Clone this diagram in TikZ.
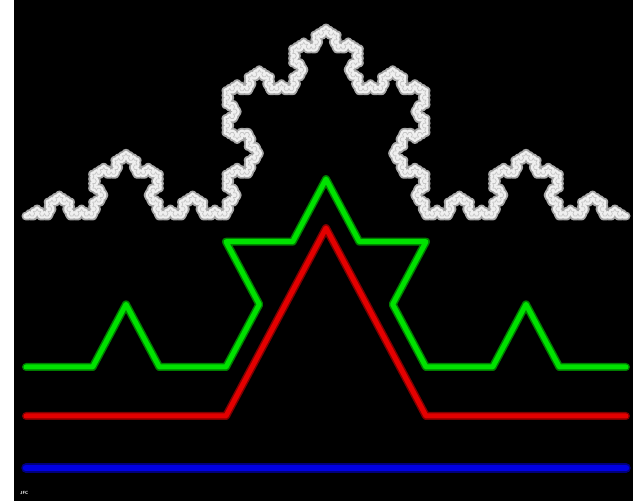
\documentclass[tikz,border=0pt]{standalone}
\usepackage{tikz}

\definecolor{kred}{RGB}{228,0,0}
\definecolor{kgreen}{RGB}{0,226,0}
\definecolor{kblue}{RGB}{0,0,226}
\definecolor{ksnow}{RGB}{240,240,240}

% one segment of the Koch curve, points go into \kpath
\def\kochseg#1#2#3#4#5{%
  \ifnum#1=0
    \xdef\kpath{\kpath -- (#4,#5)}%
  \else
    \kochsplit{#1}{#2}{#3}{#4}{#5}%
  \fi}
\def\kochsplit#1#2#3#4#5{%
  \begingroup
  \pgfmathsetmacro\kax{(2*#2+#4)/3}%
  \pgfmathsetmacro\kay{(2*#3+#5)/3}%
  \pgfmathsetmacro\kbx{(#2+2*#4)/3}%
  \pgfmathsetmacro\kby{(#3+2*#5)/3}%
  \pgfmathsetmacro\kcx{(#2+#4)/2-(#5-#3)*0.288675}%
  \pgfmathsetmacro\kcy{(#3+#5)/2+(#4-#2)*0.288675}%
  \pgfmathtruncatemacro\kn{#1-1}%
  \edef\knext{\endgroup
    \noexpand\kochseg{\kn}{#2}{#3}{\kax}{\kay}%
    \noexpand\kochseg{\kn}{\kax}{\kay}{\kcx}{\kcy}%
    \noexpand\kochseg{\kn}{\kcx}{\kcy}{\kbx}{\kby}%
    \noexpand\kochseg{\kn}{\kbx}{\kby}{#4}{#5}}%
  \knext}
% order, start x, start y, style
\newcommand\kochdraw[4]{%
  \xdef\kpath{(0,0)}%
  \kochseg{#1}{0}{0}{600}{0}%
  \begin{scope}[shift={(#2,#3)},yscale=1.085]
    \draw[#4] \kpath;
  \end{scope}}

\begin{document}
\begin{tikzpicture}[
    x=1pt, y=1pt,
    line cap=round, line join=round,
    curve/.style={line width=5pt, preaction={draw=#1!55!black, line width=8pt}, draw=#1},
    snow/.style={line width=5.5pt, draw=ksnow,
      preaction={draw=gray!70, line width=9pt},
      postaction={draw=gray!45, line width=0.7pt}},
    sign/.style={text=white, font=\fontsize{4.5}{5}\selectfont\sffamily\bfseries, inner sep=0pt}
]
\useasboundingbox (0,0) rectangle (633,501);
\fill[white] (0,0) rectangle (14,501);
\fill[black] (14,0) rectangle (633,501);

% orders 5, 2, 1, 0 from top to bottom
\kochdraw{5}{26}{285}{snow}
\kochdraw{2}{26}{134}{curve=kgreen}
\kochdraw{1}{26}{85}{curve=kred}
\kochdraw{0}{26}{33}{curve=kblue, line width=6.5pt, preaction={draw=kblue!55!black, line width=9.5pt}}

\node[sign, anchor=west] (jfc) at (20,8) {JFC};

\end{tikzpicture}
\end{document}
